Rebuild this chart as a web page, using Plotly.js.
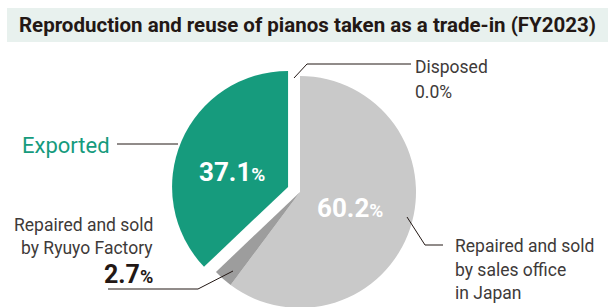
<!DOCTYPE html>
<html>
<head>
<meta charset="utf-8">
<script src="https://cdn.plot.ly/plotly-3.0.1.min.js"></script>
<style>
html,body{margin:0;padding:0;overflow:hidden;background:#fff;}
#chart{width:615px;height:330px;}
</style>
</head>
<body>
<div id="chart"></div>
<script>
// ---- data ----
const chartTitle = 'Reproduction and reuse of pianos taken as a trade-in (FY2023)';
const categories = ['Repaired and sold by sales office in Japan', 'Repaired and sold by Ryuyo Factory', 'Exported', 'Disposed'];
const shares = [60.2, 2.7, 37.1, 0.0];
const pulls = [0, 0, 0.112, 0];

// ---- styles ----
const sliceColors = ['#c9c9c9', '#9d9d9d', '#169b7d', '#ffffff'];
const W = 615, H = 330;
const dark = '#231815';
const textGray = '#3e3a39';
const green = '#169b7d';
const FONT = 'Roboto, "Liberation Sans", sans-serif';
const px = x => x / W;
const py = y => 1 - y / H;
const pct = v => v.toFixed(1);

// pie placement: centre (300,192), radius 116
const cx = 300, cy = 192, r = 116;
const half = r * (1 + Math.max(...pulls));

const trace = {
  type: 'pie',
  labels: categories,
  values: shares,
  pull: pulls,
  sort: false,
  direction: 'clockwise',
  rotation: 0,
  marker: {colors: sliceColors, line: {width: 0}},
  textinfo: 'none',
  hoverinfo: 'label+percent',
  showlegend: false,
  domain: {x: [px(cx - half), px(cx + half)], y: [py(cy + half), py(cy - half)]}
};

function ann(x, y, text, size, color, anchor, bold) {
  return {xref: 'paper', yref: 'paper', x: px(x), y: py(y), text: text, showarrow: false,
    xanchor: anchor, yanchor: 'middle',
    font: {family: FONT, size: size, color: color, weight: bold ? 700 : 400}};
}
function line(x0, y0, x1, y1) {
  return {type: 'line', xref: 'paper', yref: 'paper', x0: px(x0), y0: py(y0), x1: px(x1), y1: py(y1),
    line: {color: dark, width: 1}};
}

const annotations = [
  ann(232, 172, pct(shares[2]) + '<span style="font-size:19px">%</span>', 26, '#ffffff', 'center', true),
  ann(350, 208, pct(shares[0]) + '<span style="font-size:19px">%</span>', 26, '#ffffff', 'center', true),
  ann(413, 67, 'Disposed', 17.5, textGray, 'left', false),
  ann(413, 92, pct(shares[3]) + '%', 17.5, textGray, 'left', false),
  ann(112, 145, 'Exported', 22, green, 'right', false),
  ann(155, 225, 'Repaired and sold', 17.5, textGray, 'right', false),
  ann(155, 248, 'by Ryuyo Factory', 17.5, textGray, 'right', false),
  ann(155, 274, pct(shares[1]) + '<span style="font-size:18px">%</span>', 25, dark, 'right', true),
  ann(453, 246, 'Repaired and sold', 17.5, textGray, 'left', false),
  ann(453, 270, 'by sales office', 17.5, textGray, 'left', false),
  ann(453, 293, 'in Japan', 17.5, textGray, 'left', false)
];

const shapes = [
  {type: 'rect', xref: 'paper', yref: 'paper', x0: px(7), x1: px(608), y0: py(42), y1: py(8),
    fillcolor: '#e8f1ee', line: {width: 0}, layer: 'below'},
  line(294, 78, 307, 64), line(307, 64, 411, 64),
  line(117, 144, 178, 144),
  line(108, 289, 198, 289), line(198, 289, 233, 271),
  line(407, 217, 425, 245), line(425, 245, 443, 245)
];

const layout = {
  width: W, height: H,
  margin: {l: 0, r: 0, t: 0, b: 0},
  paper_bgcolor: '#ffffff',
  title: {text: chartTitle, x: 0.5, xanchor: 'center', xref: 'paper', y: py(25), yref: 'container', yanchor: 'middle',
    font: {family: FONT, size: 20.5, color: dark, weight: 700}},
  annotations: annotations,
  shapes: shapes
};

Plotly.newPlot('chart', [trace], layout, {displayModeBar: false, staticPlot: true});
</script>
</body>
</html>
